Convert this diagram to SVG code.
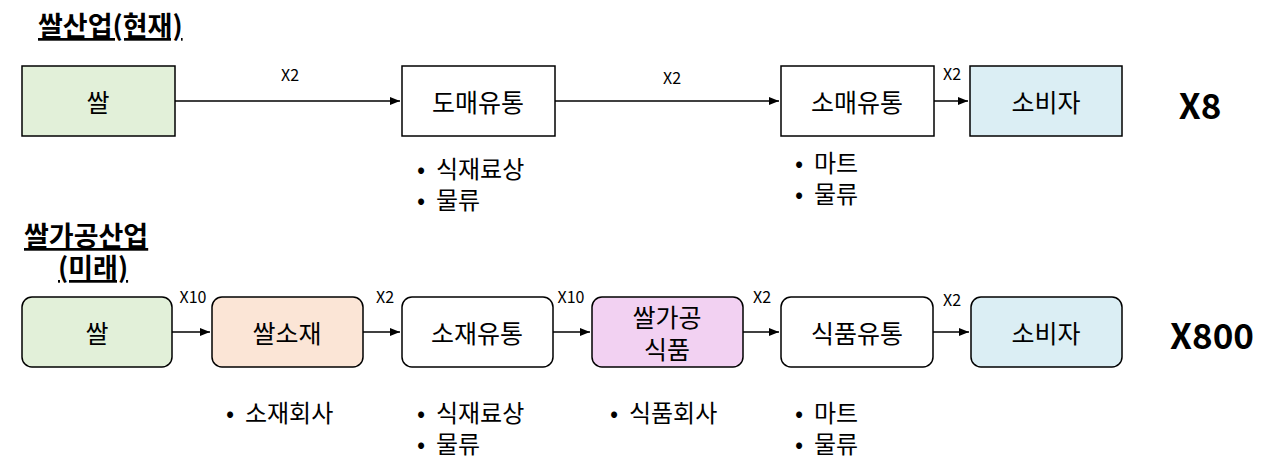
<svg xmlns="http://www.w3.org/2000/svg" width="1280" height="475" viewBox="0 0 1280 475">
<defs>
<marker id="ah" viewBox="0 0 10 10" refX="10" refY="5" markerWidth="7" markerHeight="7" orient="auto"><path d="M0,1 L10,5 L0,9 z" fill="#000"/></marker>
<style>
text{font-family:"Noto Sans CJK KR","Noto Sans",sans-serif;fill:#000}
.n{stroke:#000;stroke-width:1.5}
.t{font-size:25px;text-anchor:middle;dominant-baseline:central}
.l{font-size:16px;text-anchor:middle}
.b{font-size:24px}
.h{font-size:27px;font-weight:bold;text-decoration:underline}
.x{font-size:35px;font-weight:bold;text-anchor:middle;dominant-baseline:central}
.c line{stroke:#000;stroke-width:1.5;marker-end:url(#ah)}
</style>
</defs>
<rect width="1280" height="475" fill="#fff"/>
<text class="h" x="38" y="36">쌀산업(현재)</text>
<text class="h" x="24" y="246">쌀가공산업</text>
<text class="h" x="58" y="278">(미래)</text>
<g id="r1">
<g id="n1"><rect class="n" x="22" y="66" width="153" height="70" fill="#e2f0d9"/><text class="t" x="98" y="101">쌀</text></g>
<g id="n2"><rect class="n" x="402" y="66" width="153" height="70" fill="#fff"/><text class="t" x="478" y="101">도매유통</text></g>
<g id="n3"><rect class="n" x="781" y="66" width="153" height="70" fill="#fff"/><text class="t" x="857" y="101">소매유통</text></g>
<g id="n4"><rect class="n" x="970" y="66" width="152" height="70" fill="#dbeef4"/><text class="t" x="1046" y="101">소비자</text></g>
<text class="x" x="1200" y="103">X8</text>
</g>
<g id="r2">
<g id="m1"><rect class="n" x="22" y="297" width="150" height="70" rx="10" fill="#e2f0d9"/><text class="t" x="97" y="332">쌀</text></g>
<g id="m2"><rect class="n" x="212" y="297" width="151" height="70" rx="10" fill="#fbe5d6"/><text class="t" x="287" y="332">쌀소재</text></g>
<g id="m3"><rect class="n" x="402" y="297" width="151" height="70" rx="10" fill="#fff"/><text class="t" x="477" y="332">소재유통</text></g>
<g id="m4"><rect class="n" x="592" y="297" width="151" height="70" rx="10" fill="#f2d1f2"/><text class="t" x="667" y="316">쌀가공</text><text class="t" x="667" y="348">식품</text></g>
<g id="m5"><rect class="n" x="781" y="297" width="152" height="70" rx="10" fill="#fff"/><text class="t" x="857" y="332">식품유통</text></g>
<g id="m6"><rect class="n" x="971" y="297" width="151" height="70" rx="10" fill="#dbeef4"/><text class="t" x="1046" y="332">소비자</text></g>
<text class="x" x="1212" y="333">X800</text>
</g>
<g class="c">
<line x1="175" y1="101" x2="400" y2="101"/>
<line x1="555" y1="101" x2="779" y2="101"/>
<line x1="934" y1="101" x2="968" y2="101"/>
<line x1="172" y1="332" x2="210" y2="332"/>
<line x1="363" y1="332" x2="400" y2="332"/>
<line x1="553" y1="332" x2="590" y2="332"/>
<line x1="743" y1="332" x2="779" y2="332"/>
<line x1="933" y1="332" x2="969" y2="332"/>
</g>
<g id="labels">
<text class="l" x="290" y="81">X2</text>
<text class="l" x="672" y="84">X2</text>
<text class="l" x="952" y="80">X2</text>
<text class="l" x="193" y="303">X10</text>
<text class="l" x="385" y="303">X2</text>
<text class="l" x="571" y="303">X10</text>
<text class="l" x="762" y="303">X2</text>
<text class="l" x="952" y="306">X2</text>
</g>
<g id="bullets" class="b">
<text x="417" y="178" xml:space="preserve">•  식재료상</text>
<text x="417" y="209" xml:space="preserve">•  물류</text>
<text x="795" y="172" xml:space="preserve">•  마트</text>
<text x="795" y="203" xml:space="preserve">•  물류</text>
<text x="226" y="422" xml:space="preserve">•  소재회사</text>
<text x="417" y="422" xml:space="preserve">•  식재료상</text>
<text x="417" y="453" xml:space="preserve">•  물류</text>
<text x="610" y="422" xml:space="preserve">•  식품회사</text>
<text x="795" y="422" xml:space="preserve">•  마트</text>
<text x="795" y="453" xml:space="preserve">•  물류</text>
</g>
</svg>
